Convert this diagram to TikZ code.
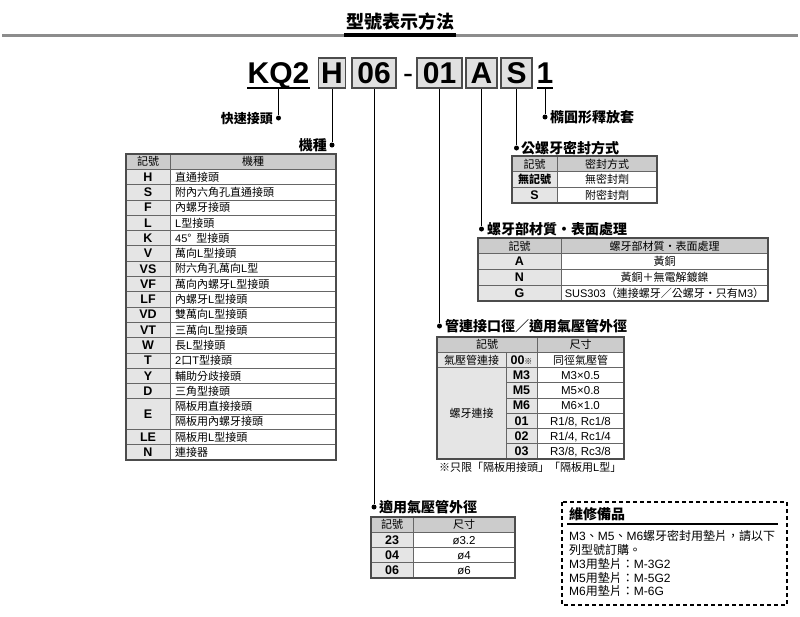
\documentclass[tikz,border=0pt]{standalone}
\usepackage{fontspec}
\setmainfont{Noto Sans CJK TC}
\newfontfamily\lat{Liberation Sans}
\begin{document}
\begin{tikzpicture}[x=1pt,y=-1pt,
  tcell/.style={inner sep=0pt, text height=8.4pt, text depth=0pt, font=\fontsize{11}{11}\selectfont},
  lcell/.style={tcell, font=\lat\fontsize{11.5}{11.5}\selectfont},
  bcell/.style={tcell, font=\bfseries\fontsize{11}{11}\selectfont},
  symcell/.style={inner sep=0pt, text height=8.6pt, text depth=0pt, font=\lat\bfseries\fontsize{12.5}{12.5}\selectfont},
  leader/.style={inner sep=0pt, text height=10.6pt, text depth=0pt, font=\bfseries\fontsize{14}{14}\selectfont},
  ldot/.style={circle, fill=black, inner sep=0pt, minimum size=5pt},
  conn/.style={line width=0.9pt},
  codetext/.style={inner sep=0pt, minimum height=30pt, text height=21.5pt, text depth=0pt, font=\lat\bfseries\fontsize{30}{30}\selectfont},
  codebox/.style={codetext, draw=black!70, fill=black!12, line width=1.3pt},
  hdr/.style={fill=black!20},
  symf/.style={fill=black!10},
  tgrid/.style={draw=black!60, line width=0.7pt},
  tframe/.style={draw=black!70, line width=1.3pt},
  mnote/.style={inner sep=0pt, anchor=west, text height=9pt, text depth=0pt, font=\fontsize{12}{12}\selectfont},
]
\useasboundingbox (0,0) rectangle (800,616);

% ---------- title ----------
\node[inner sep=0pt, text height=13.5pt, text depth=0pt, font=\bfseries\fontsize{18}{18}\selectfont] (title) at (400,22) {型號表示方法};
\draw[line width=3pt, black!45] (2,35) -- (798,35);
\draw[line width=3.5pt] (344,35) -- (456,35);

% ---------- model code ----------
\node[codetext] (kq) at (278.5,73) {KQ2};
\draw[line width=1.5pt] (kq.south west) -- (kq.south east);
\node[codebox, minimum width=27pt] (bH) at (332,73) {H};
\node[codebox, minimum width=44pt] (b06) at (374,73) {06};
\node[codetext, font=\lat\fontsize{30}{30}\selectfont] (dash) at (408,73) {-};
\node[codebox, minimum width=45pt] (b01) at (439.5,73) {01};
\node[codebox, minimum width=31pt] (bA) at (481.5,73) {A};
\node[codebox, minimum width=31pt] (bS) at (516.5,73) {S};
\node[codetext] (n1) at (545,73) {1};
\draw[line width=1.5pt] (537,88) -- (553,88);

% ---------- dots, leaders ----------
\node[ldot] (dKQ) at (278.5,118) {};
\node[ldot] (dH) at (332,145) {};
\node[ldot] (d06) at (374,507) {};
\node[ldot] (d01) at (439.5,326) {};
\node[ldot] (dA) at (481.5,229) {};
\node[ldot] (dS) at (516.5,148) {};
\node[ldot] (d1) at (545,117) {};
\draw[conn] (kq.south) -- (dKQ);
\draw[conn] (bH.south) -- (dH);
\draw[conn] (b06.south) -- (d06);
\draw[conn] (b01.south) -- (d01);
\draw[conn] (bA.south) -- (dA);
\draw[conn] (bS.south) -- (dS);
\draw[conn] (n1.south) -- (d1);

\node[leader, anchor=east, font=\bfseries\fontsize{13}{13}\selectfont] (tKQ) at (273,118) {快速接頭};
\node[leader, anchor=east] (tH) at (327,145) {機種};
\node[leader, anchor=west] (t06) at (379,507) {適用氣壓管外徑};
\node[leader, anchor=west] (t01) at (445,326) {管連接口徑／適用氣壓管外徑};
\node[leader, anchor=west] (tA) at (487,229) {螺牙部材質·表面處理};
\node[leader, anchor=west] (tS) at (521,148) {公螺牙密封方式};
\node[leader, anchor=west] (t1) at (550,117) {橢圓形釋放套};

% ---------- left table (機種) ----------
\fill[hdr] (126,154) rectangle (336,169.3);
\fill[symf] (126,169.3) rectangle (170,460);
\foreach \k in {1,...,19} {
  \ifnum\k=17
    \draw[tgrid] (170,{154+\k*15.3}) -- (336,{154+\k*15.3});
  \else
    \draw[tgrid] (126,{154+\k*15.3}) -- (336,{154+\k*15.3});
  \fi
}
\draw[tgrid] (170,154) -- (170,460);
\draw[tframe] (126,154) rectangle (336,460);
\node[tcell] (lh1) at (148,161.65) {記號};
\node[tcell] (lh2) at (253,161.65) {機種};
\foreach \k/\s in {1/H,2/S,3/F,4/L,5/K,6/V,7/VS,8/VF,9/LF,10/VD,11/VT,12/W,13/T,14/Y,15/D,18/LE,19/N}
  \node[symcell] (ls\k) at (148,{154+(\k+0.5)*15.3}) {\s};
\node[symcell] (ls16) at (148,{154+17*15.3}) {E};
\foreach \k/\d in {1/直通接頭,2/附內六角孔直通接頭,3/內螺牙接頭,4/{\lat L}型接頭,5/{\lat 45}°\ \ 型接頭,6/萬向{\lat L}型接頭,7/附六角孔萬向{\lat L}型,8/萬向內螺牙{\lat L}型接頭,9/內螺牙{\lat L}型接頭,10/雙萬向{\lat L}型接頭,11/三萬向{\lat L}型接頭,12/長{\lat L}型接頭,13/{\lat 2}口{\lat T}型接頭,14/輔助分歧接頭,15/三角型接頭,16/隔板用直接接頭,17/隔板用內螺牙接頭,18/隔板用{\lat L}型接頭,19/連接器}
  \node[tcell, anchor=west] (ld\k) at (175,{154+(\k+0.5)*15.3}) {\d};

% ---------- 公螺牙密封方式 table ----------
\fill[hdr] (512,156) rectangle (657,171.7);
\fill[symf] (512,171.7) rectangle (557,203);
\draw[tgrid] (512,171.7) -- (657,171.7);
\draw[tgrid] (512,187.3) -- (657,187.3);
\draw[tgrid] (557,156) -- (557,203);
\draw[tframe] (512,156) rectangle (657,203);
\node[tcell] (sh1) at (534.5,163.85) {記號};
\node[tcell] (sh2) at (607,163.85) {密封方式};
\node[bcell] (ss1) at (534.5,179.5) {無記號};
\node[tcell] (sd1) at (607,179.5) {無密封劑};
\node[symcell] (ss2) at (534.5,195.15) {S};
\node[tcell] (sd2) at (607,195.15) {附密封劑};

% ---------- 螺牙部材質 table ----------
\fill[hdr] (478,238) rectangle (768,253.75);
\fill[symf] (478,253.75) rectangle (561,301);
\foreach \yy in {253.75,269.5,285.25} \draw[tgrid] (478,\yy) -- (768,\yy);
\draw[tgrid] (561,238) -- (561,301);
\draw[tframe] (478,238) rectangle (768,301);
\node[tcell] (ah1) at (519.5,245.9) {記號};
\node[tcell] (ah2) at (664.5,245.9) {螺牙部材質·表面處理};
\node[symcell] (as1) at (519.5,261.6) {A};
\node[tcell] (ad1) at (664.5,261.6) {黃銅};
\node[symcell] (as2) at (519.5,277.4) {N};
\node[tcell] (ad2) at (664.5,277.4) {黃銅＋無電解鍍鎳};
\node[symcell] (as3) at (519.5,293.1) {G};
\node[tcell] (ad3) at (664.5,293.1) {{\lat SUS303}（連接螺牙／公螺牙·只有{\lat M3}）};

% ---------- 管連接口徑 table ----------
\fill[hdr] (437,337) rectangle (624,352.25);
\fill[symf] (437,352.25) rectangle (537,459);
\draw[tgrid] (437,352.25) -- (624,352.25);
\draw[tgrid] (437,367.5) -- (624,367.5);
\foreach \j in {3,...,7} \draw[tgrid] (506,{337+\j*15.25}) -- (624,{337+\j*15.25});
\draw[tgrid] (506,352.25) -- (506,459);
\draw[tgrid] (537,337) -- (537,459);
\draw[tframe] (437,337) rectangle (624,459);
\node[tcell] (ph1) at (487,344.6) {記號};
\node[tcell] (ph2) at (580.5,344.6) {尺寸};
\node[tcell] (pa) at (471.5,359.9) {氣壓管連接};
\node[symcell] (pc0) at (521.5,359.9) {00{\normalfont\fontsize{8}{8}\selectfont ※}};
\node[tcell] (pd0) at (580.5,359.9) {同徑氣壓管};
\node[tcell] (pb) at (471.5,413.25) {螺牙連接};
\foreach \j/\c in {2/M3,3/M5,4/M6,5/01,6/02,7/03}
  \node[symcell] (pc\j) at (521.5,{337+(\j+0.5)*15.25}) {\c};
\node[lcell] (pd2) at (580.5,{337+2.5*15.25}) {M3×0.5};
\node[lcell] (pd3) at (580.5,{337+3.5*15.25}) {M5×0.8};
\node[lcell] (pd4) at (580.5,{337+4.5*15.25}) {M6×1.0};
\node[lcell] (pd5) at (580.5,{337+5.5*15.25}) {R1/8, Rc1/8};
\node[lcell] (pd6) at (580.5,{337+6.5*15.25}) {R1/4, Rc1/4};
\node[lcell] (pd7) at (580.5,{337+7.5*15.25}) {R3/8, Rc3/8};
\node[tcell, anchor=west] (pnote) at (439,467) {※只限「隔板用接頭」「隔板用{\lat L}型」};

% ---------- 適用氣壓管外徑 table ----------
\fill[hdr] (371,517) rectangle (515,532.25);
\fill[symf] (371,532.25) rectangle (413,578);
\foreach \yy in {532.25,547.5,562.75} \draw[tgrid] (371,\yy) -- (515,\yy);
\draw[tgrid] (413,517) -- (413,578);
\draw[tframe] (371,517) rectangle (515,578);
\node[tcell] (th1) at (392,524.6) {記號};
\node[tcell] (th2) at (464,524.6) {尺寸};
\node[symcell] (ts1) at (392,539.9) {23};
\node[lcell] (td1) at (464,539.9) {ø3.2};
\node[symcell] (ts2) at (392,555.1) {04};
\node[lcell] (td2) at (464,555.1) {ø4};
\node[symcell] (ts3) at (392,570.4) {06};
\node[lcell] (td3) at (464,570.4) {ø6};

% ---------- 維修備品 box ----------
\draw[line width=1.4pt, dash pattern=on 4pt off 3pt] (562,502) rectangle (787,605);
\node[leader, anchor=west] (mt) at (569,514) {維修備品};
\draw[line width=1.2pt] (567,524) -- (778,524);
\node[mnote] (m1) at (569,536) {{\lat M3}、{\lat M5}、{\lat M6}螺牙密封用墊片，請以下};
\node[mnote] (m2) at (569,550) {列型號訂購。};
\node[mnote] (m3) at (569,564) {{\lat M3}用墊片：{\lat M-3G2}};
\node[mnote] (m4) at (569,578) {{\lat M5}用墊片：{\lat M-5G2}};
\node[mnote] (m5) at (569,591) {{\lat M6}用墊片：{\lat M-6G}};
\end{tikzpicture}
\end{document}
